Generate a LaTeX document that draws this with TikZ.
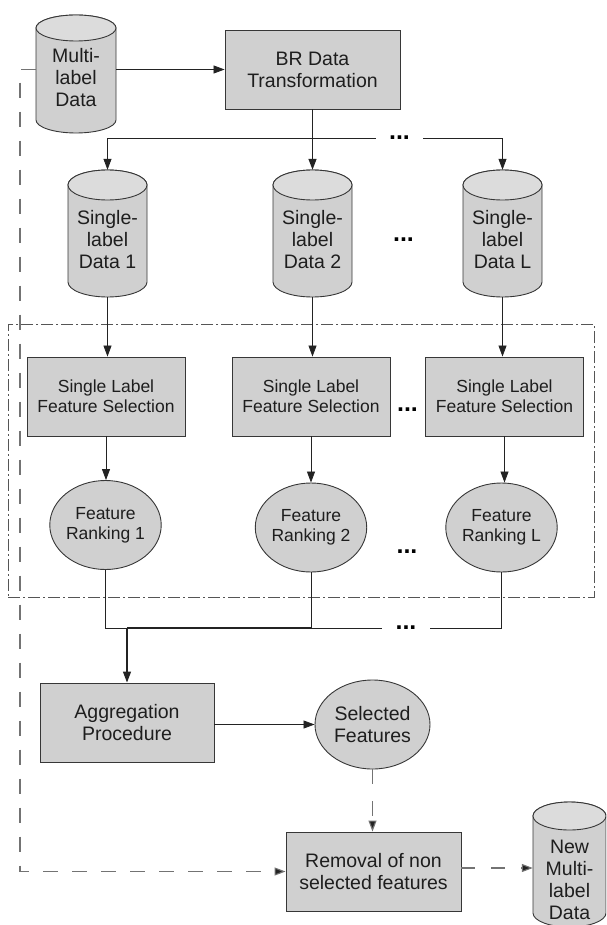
\documentclass[tikz,border=0pt]{standalone}
\usepackage{fontspec}
\setmainfont{Liberation Sans}
\usetikzlibrary{arrows.meta,shapes.geometric}

\definecolor{boxfill}{RGB}{208,208,208}
\definecolor{topfill}{RGB}{220,220,220}
\definecolor{edge}{RGB}{55,55,55}
\definecolor{wire}{RGB}{35,35,35}
\definecolor{dashwire}{RGB}{115,115,115}
\definecolor{framewire}{RGB}{85,85,85}
\definecolor{ink}{RGB}{30,30,30}

% database drum: name, centre x, top y, bottom y, width, end radius, text drop, text
\newcommand\drum[8]{%
  \pgfmathsetmacro\drumrx{#5/2}%
  \filldraw[drumbody] ({#2-\drumrx},{-(#3+#6)}) -- ({#2-\drumrx},{-(#4-#6)})
    arc[start angle=180,end angle=360,x radius=\drumrx,y radius=#6]
    -- ({#2+\drumrx},{-(#3+#6)})
    arc[start angle=0,end angle=180,x radius=\drumrx,y radius=#6] -- cycle;
  \filldraw[drumtop] (#2,{-(#3+#6)}) ellipse[x radius=\drumrx,y radius=#6];
  \node[inner sep=0pt,minimum width=#5pt,minimum height={(#4-#3)*1pt}] (#1) at (#2,{-(#3+#4)/2}) {};
  \node[drumtext] (#1-label) at (#2,{-(#3+#4)/2-#7}) {#8};
}

\begin{document}
\begin{tikzpicture}[x=1pt,y=1pt,
  big/.style={font=\fontsize{19.5}{22}\selectfont},
  small/.style={font=\fontsize{17.5}{20}\selectfont},
  proc/.style={draw=edge,fill=boxfill,line width=0.9pt,inner sep=0pt,align=center,text=ink},
  rank/.style={ellipse,draw=edge,fill=boxfill,line width=0.9pt,inner sep=0pt,align=center,text=ink},
  drumbody/.style={draw=edge,fill=boxfill,line width=0.9pt},
  drumtop/.style={draw=edge,fill=topfill,line width=0.9pt},
  drumtext/.style={big,align=center,text=ink,inner sep=0pt},
  dots/.style={font=\fontsize{25}{25}\selectfont\bfseries,text=black,inner sep=0pt},
  gapdots/.style={dots,fill=white,minimum width=47pt,minimum height=18pt},
  arr/.style={draw=wire,line width=0.8pt,-{Triangle[length=11pt,width=8pt]}},
  heavyarr/.style={arr,line width=1.3pt},
  wireline/.style={draw=wire,line width=0.8pt},
  dasharr/.style={draw=dashwire,line width=1.1pt,dash pattern=on 15pt off 14pt,
    -{Triangle[length=11pt,width=8pt,fill=wire]}},
  groupframe/.style={draw=framewire,line width=0.9pt,dash pattern=on 12pt off 3pt on 2pt off 3pt,inner sep=0pt}
]
\clip (0,0) rectangle (606,-925);

% sources and split
\drum{multi}{76}{15}{133}{80}{13}{4}{Multi-\\label\\Data}
\node[proc,big,minimum width=175pt,minimum height=79pt] (br) at (312.5,-69.5) {BR Data\\Transformation};

\drum{c1}{107.5}{170}{297}{79}{15}{6.5}{Single-\\label\\Data 1}
\drum{c2}{312.5}{170}{297}{79}{15}{6.5}{Single-\\label\\Data 2}
\drum{cL}{502.5}{170}{297}{79}{15}{6.5}{Single-\\label\\Data L}
\node[dots] (dC) at (403.5,-240) {...};

% per-label feature selection group
\node[groupframe,minimum width=586pt,minimum height=273pt] (grp) at (301,-460.5) {};

\node[proc,small,minimum width=158pt,minimum height=79pt] (s1) at (106,-396.5) {Single Label\\Feature Selection};
\node[proc,small,minimum width=158pt,minimum height=79pt] (s2) at (311,-396.5) {Single Label\\Feature Selection};
\node[proc,small,minimum width=158pt,minimum height=79pt] (sL) at (504.5,-396.5) {Single Label\\Feature Selection};
\node[dots] (dS) at (407.5,-410) {...};

\node[rank,small,minimum width=99pt,minimum height=89pt] (r1) at (105.5,-525) {Feature\\Ranking 1};
\node[rank,small,minimum width=99pt,minimum height=89pt] (r2) at (311,-527.5) {Feature\\Ranking 2};
\node[rank,small,minimum width=99pt,minimum height=89pt] (rL) at (501.5,-527.5) {Feature\\Ranking L};
\node[dots] (dR) at (407,-552) {...};

% aggregation and output
\node[proc,big,minimum width=174pt,minimum height=79pt] (agg) at (127,-722.5) {Aggregation\\Procedure};
\node[rank,big,minimum width=115pt,minimum height=89pt] (sel) at (372.5,-724.5) {Selected\\Features};
\node[proc,big,minimum width=175pt,minimum height=79pt] (rem) at (373.5,-871.5) {Removal of non\\selected features};
\drum{new}{569.5}{802}{927}{73}{14}{15.5}{New\\Multi-\\label\\Data}

% connectors: split
\draw[arr] (multi.east |- br.west) -- (br.west);
\node[gapdots] (dA) at (399.5,-138) {...};
\draw[heavyarr] (br.south) -- (c2.north);
\draw[arr] (dA.west) -| (c1.north);
\draw[arr] (dA.east) -| (cL.north);

\draw[arr] (c1.south) -- (c1.south |- s1.north);
\draw[arr] (c2.south) -- (c2.south |- s2.north);
\draw[arr] (cL.south) -- (cL.south |- sL.north);

\draw[arr] (s1.south) -- (s1.south |- r1.north);
\draw[arr] (s2.south) -- (s2.south |- r2.north);
\draw[arr] (sL.south) -- (sL.south |- rL.north);

% connectors: merge
\coordinate (bus) at (0,-628);
\node[gapdots] (dB) at (406,-628) {...};
\draw[wireline] (r1.south) |- (dB.west);
\draw[wireline] (rL.south) |- (dB.east);
\draw[wireline] (r2.south) -- (r2.south |- bus);
\draw[wireline,line width=1.3pt] (agg.north |- bus) -- (r2.south |- bus);
\draw[heavyarr] (agg.north |- bus) -- (agg.north);

\draw[arr] (agg.east |- sel.west) -- (sel.west);
\draw[dasharr,dash pattern=on 15pt off 17pt] (sel.south) -- (sel.south |- rem.north);
\coordinate (remout) at ([yshift=3.5pt]rem.east);
\draw[dasharr,dash pattern=on 14pt off 16pt] (remout) -- (remout -| new.west);

% original data passed on to the final filtering step
\coordinate (loop) at (20,-871.5);
\draw[dasharr] (multi.west |- br.west) -| (loop) -- (rem.west);
\end{tikzpicture}
\end{document}
